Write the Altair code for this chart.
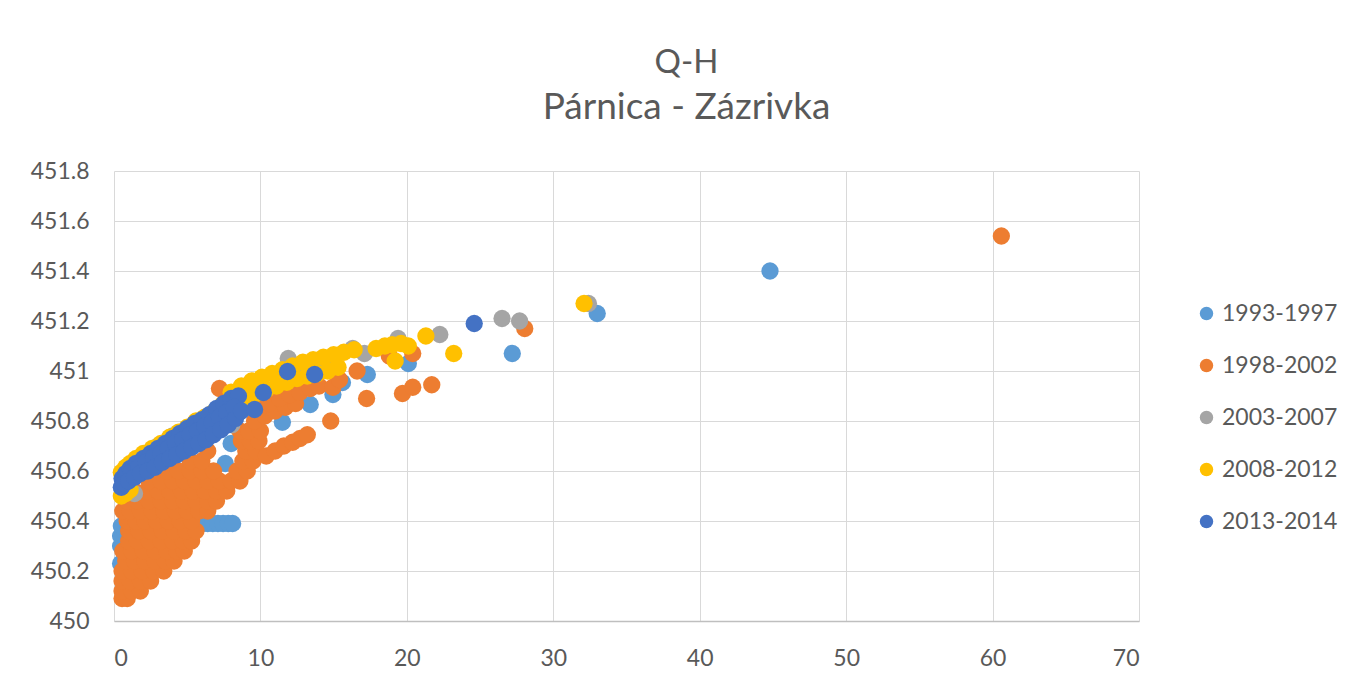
import altair as alt
import pandas as pd

SERIES = ["1993-1997", "1998-2002", "2003-2007", "2008-2012", "2013-2014"]
COLORS = ["#5B9BD5", "#ED7D31", "#A5A5A5", "#FFC000", "#4472C4"]
X_TICKS = [0, 10, 20, 30, 40, 50, 60, 70]
Y_TICKS = [450.0, 450.2, 450.4, 450.6, 450.8, 451.0, 451.2, 451.4, 451.6, 451.8]

# 1993-1997
s1_q = [0.45, 0.45, 0.45, 0.5, 1.5, 2.5, 3.5, 4.5,
        5.7, 6.05, 6.4, 6.75, 7.1, 7.45, 7.8, 8.1,
        7.6, 8.0, 11.5, 13.4, 14.95, 15.6, 17.3, 20.1, 27.2, 33.0, 44.8]
s1_h = [450.23, 450.30, 450.34, 450.38, 450.30, 450.40, 450.45, 450.50,
        450.395, 450.39, 450.39, 450.39, 450.39, 450.39, 450.39, 450.39,
        450.63, 450.71, 450.795, 450.866, 450.906, 450.954, 450.986, 451.03, 451.07, 451.23, 451.40]

# 1998-2002
s2_q = [0.55, 0.9,
        0.55, 1.2, 1.8,
        0.55, 1.1, 1.8, 2.5,
        0.55, 1.2, 1.9, 2.7, 3.4,
        0.8, 1.4, 2.1, 2.8, 3.5, 4.1,
        0.6, 1.2, 2.0, 2.8, 3.6, 4.3, 4.8,
        1.0, 1.6, 2.4, 3.2, 4.0, 4.7, 5.3,
        1.0, 1.7, 2.5, 3.3, 4.1, 4.9, 5.6,
        0.9, 1.5, 2.1, 2.9, 3.7, 4.5, 5.3,
        0.6, 1.1, 1.8, 2.6, 3.4, 4.2, 5.0, 5.8, 6.4,
        0.9, 1.6, 2.4, 3.2, 4.0, 4.8, 5.6, 6.4, 7.0,
        1.4, 2.2, 3.0, 3.8, 4.6, 5.4, 6.2, 7.0, 7.7,
        2.4, 3.2, 4.0, 4.8, 5.6, 6.4, 7.2, 8.0, 8.6,
        3.6, 4.4, 5.2, 6.0, 6.8, 8.4, 9.1,
        5.2, 6.0, 8.8, 9.5,
        6.4, 9.0, 9.7,
        8.7, 9.3, 9.9,
        8.6, 9.2, 10.0,
        10.4, 11.0, 11.6, 12.2, 12.7, 13.2,
        9.6, 10.3, 11.0, 11.7, 12.4,
        9.9, 10.6, 11.3, 12.0, 12.7, 13.4, 14.0,
        14.95, 15.4, 16.6, 14.8, 17.25, 18.8, 20.4, 19.7, 20.4, 21.7, 28.05, 60.6, 7.2]
s2_h = [450.09, 450.09,
        450.12, 450.12, 450.12,
        450.16, 450.16, 450.16, 450.16,
        450.20, 450.20, 450.20, 450.20, 450.20,
        450.24, 450.24, 450.24, 450.24, 450.24, 450.24,
        450.28, 450.28, 450.28, 450.28, 450.28, 450.28, 450.28,
        450.32, 450.32, 450.32, 450.32, 450.32, 450.32, 450.32,
        450.36, 450.36, 450.36, 450.36, 450.36, 450.36, 450.36,
        450.40, 450.40, 450.40, 450.40, 450.40, 450.40, 450.40,
        450.44, 450.44, 450.44, 450.44, 450.44, 450.44, 450.44, 450.44, 450.44,
        450.48, 450.48, 450.48, 450.48, 450.48, 450.48, 450.48, 450.48, 450.48,
        450.52, 450.52, 450.52, 450.52, 450.52, 450.52, 450.52, 450.52, 450.52,
        450.56, 450.56, 450.56, 450.56, 450.56, 450.56, 450.56, 450.56, 450.56,
        450.60, 450.60, 450.60, 450.60, 450.60, 450.60, 450.60,
        450.64, 450.64, 450.64, 450.64,
        450.68, 450.68, 450.68,
        450.72, 450.72, 450.72,
        450.76, 450.76, 450.76,
        450.66, 450.68, 450.70, 450.715, 450.73, 450.745,
        450.80, 450.82, 450.84, 450.855, 450.87,
        450.85, 450.87, 450.89, 450.905, 450.915, 450.93, 450.94,
        450.935, 450.965, 451.0, 450.80, 450.89, 451.06, 451.07, 450.91, 450.935, 450.945, 451.17, 451.54, 450.93]

# 2003-2007
s3_q = [1.4, 2.0, 3.0, 4.0, 5.4, 6.5, 8.05, 9.0, 10.0, 11.9, 13.0, 14.5,
        16.3, 17.1, 19.4, 22.25, 26.5, 27.7, 32.4]
s3_h = [450.51, 450.66, 450.70, 450.74, 450.70, 450.82, 450.785, 450.90, 450.94, 451.05, 451.0, 451.03,
        451.09, 451.07, 451.13, 451.146, 451.21, 451.20, 451.27]

# 2008-2012
s4_q = [0.5, 0.8, 1.1,
        0.5, 0.8, 1.1, 1.5, 2.0, 2.6, 3.2, 3.8, 4.4, 5.0, 5.6, 6.2, 6.8, 7.4,
        8.0, 8.7, 9.4, 10.1, 10.8, 11.5, 12.2, 12.9, 13.6, 14.3, 15.0, 15.7, 16.4,
        9.0, 9.7, 10.4, 11.1, 11.8, 12.5, 13.2, 13.9, 14.6, 15.3,
        17.9, 18.5, 19.0, 19.6, 20.1, 19.2, 21.3, 23.2, 32.1]
s4_h = [450.50, 450.51, 450.525,
        450.595, 450.615, 450.63, 450.65, 450.67, 450.69, 450.71, 450.735, 450.755, 450.775, 450.80, 450.815, 450.835, 450.865,
        450.915, 450.94, 450.96, 450.975, 450.99, 451.005, 451.02, 451.035, 451.045, 451.055, 451.065, 451.075, 451.085,
        450.89, 450.91, 450.925, 450.94, 450.955, 450.97, 450.98, 450.99, 451.0, 451.015,
        451.09, 451.10, 451.105, 451.11, 451.10, 451.04, 451.14, 451.07, 451.27]

# 2013-2014
s5_q = [0.55, 0.8, 1.1, 1.5, 2.0, 2.5, 3.0, 3.5, 4.0, 4.5, 5.0, 5.5, 6.0, 6.5, 7.0, 7.5, 8.0, 8.5,
        1.2, 1.7, 2.2, 2.7, 3.2, 3.7, 4.2, 4.7, 5.2, 5.7, 6.2, 6.7, 7.2, 7.7, 8.2,
        0.5, 0.7, 1.0, 1.4, 1.8, 2.3, 2.8, 3.3, 3.8, 4.3, 4.8, 5.3, 5.8, 6.3, 6.8, 7.3, 7.8, 8.3, 8.7,
        9.6, 10.2, 11.85, 13.7, 24.6]
s5_h = [450.57, 450.59, 450.61, 450.63, 450.65, 450.67, 450.69, 450.71, 450.73, 450.75, 450.77, 450.79, 450.805, 450.825, 450.85, 450.87, 450.89, 450.90,
        450.595, 450.615, 450.635, 450.655, 450.67, 450.69, 450.71, 450.725, 450.745, 450.76, 450.78, 450.795, 450.815, 450.835, 450.855,
        450.535, 450.55, 450.56, 450.575, 450.59, 450.60, 450.615, 450.635, 450.65, 450.665, 450.68, 450.695, 450.71, 450.725, 450.745, 450.765, 450.785, 450.81, 450.84,
        450.846, 450.914, 450.998, 450.986, 451.19]

frames = []
for name, q, h in zip(SERIES, [s1_q, s2_q, s3_q, s4_q, s5_q], [s1_h, s2_h, s3_h, s4_h, s5_h]):
    frames.append(pd.DataFrame({"Q": q, "H": h, "series": name}))
df = pd.concat(frames, ignore_index=True)
df["order"] = range(len(df))

TXT = "#595959"
FONT = "Lato"

chart = alt.Chart(df).mark_circle(size=300, opacity=1).encode(
    x=alt.X("Q:Q", scale=alt.Scale(domain=[0, 70], nice=False),
            axis=alt.Axis(values=X_TICKS, title=None, ticks=False, labelPadding=26,
                          labelFont=FONT, labelFontSize=23, labelColor=TXT,
                          domain=True, domainColor="#bfbfbf", domainWidth=1.5,
                          grid=True, gridColor="#d9d9d9")),
    y=alt.Y("H:Q", scale=alt.Scale(domain=[450, 451.8], nice=False, zero=False),
            axis=alt.Axis(values=Y_TICKS, title=None, ticks=False, labelPadding=25, format="~f",
                          labelFont=FONT, labelFontSize=23, labelColor=TXT,
                          domain=False, grid=True, gridColor="#d9d9d9")),
    color=alt.Color("series:N", scale=alt.Scale(domain=SERIES, range=COLORS),
                    legend=alt.Legend(title=None, orient="none", legendX=1081, legendY=131,
                                      symbolType="circle", symbolSize=180, labelFontSize=23,
                                      labelFont=FONT, labelColor=TXT, rowPadding=28,
                                      labelOffset=4, padding=0, symbolStrokeWidth=0)),
    order=alt.Order("order:Q"),
).properties(
    width=1025, height=450,
    autosize=alt.AutoSizeParams(type="none"),
    padding={"left": 106, "top": 163, "right": 208, "bottom": 57},
    title=alt.Title(text="Q-H", subtitle="Párnica - Zázrivka", fontSize=33, subtitleFontSize=37,
                    font=FONT, subtitleFont=FONT, color=TXT, subtitleColor=TXT,
                    fontWeight="normal", subtitleFontWeight="normal",
                    anchor="middle", frame="group", dx=60, offset=34, subtitlePadding=10),
).configure_view(stroke=None)

chart.save("out.html", embed_options={"renderer": "svg", "actions": False})
